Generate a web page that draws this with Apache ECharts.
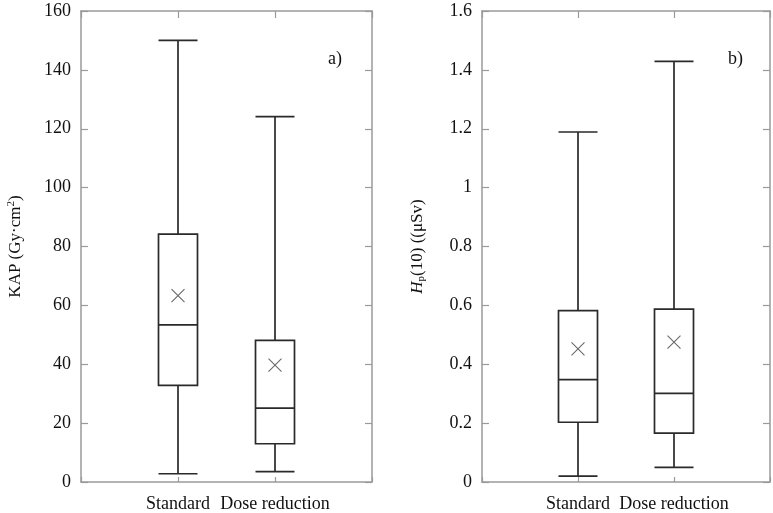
<!DOCTYPE html>
<html>
<head>
<meta charset="utf-8">
<script src="https://cdn.jsdelivr.net/npm/echarts@6/dist/echarts.min.js"></script>
<style>html,body{margin:0;padding:0;background:#fff;}#c{width:773px;height:513px;}</style>
</head>
<body>
<div id="c"></div>
<script>
// Data
const categories = ['Standard', 'Dose reduction'];
// [min, Q1, median, Q3, max]
const kapBox = [[2.8, 32.8, 53.4, 84.2, 150.0], [3.5, 13.0, 25.1, 48.1, 124.1]];
const kapMean = [63.3, 39.7];
const hpBox = [[0.020, 0.203, 0.348, 0.582, 1.189], [0.050, 0.166, 0.301, 0.587, 1.429]];
const hpMean = [0.452, 0.475];
const kapAxis = {min: 0, max: 160, interval: 20};
const hpAxis = {min: 0, max: 1.6, interval: 0.2};
const panelLabels = ['a)', 'b)'];

const FONT = 'Liberation Serif';
const frameColor = '#9a9a9a';
const lineColor = '#2a2a2a';
const textColor = '#111';
const paddedCats = [''].concat(categories).concat(['']);

const chart = echarts.init(document.getElementById('c'));

function xAxes(gridIndex) {
  return [
    {
      type: 'category', gridIndex, data: paddedCats, boundaryGap: false, position: 'bottom',
      axisLine: {show: true, onZero: false, lineStyle: {color: frameColor, width: 1.5}},
      axisTick: {show: true, inside: true, interval: 0, length: 5, lineStyle: {color: frameColor, width: 1.2}},
      axisLabel: {color: textColor, fontFamily: FONT, fontSize: 18, margin: 13, interval: 0, hideOverlap: false},
      splitLine: {show: false}
    },
    {
      type: 'category', gridIndex, data: paddedCats, boundaryGap: false, position: 'top',
      axisLine: {show: true, onZero: false, lineStyle: {color: frameColor, width: 1.5}},
      axisTick: {show: true, inside: true, interval: 0, length: 7, lineStyle: {color: frameColor, width: 1.2}},
      axisLabel: {show: false}, splitLine: {show: false}
    }
  ];
}
function yAxes(gridIndex, ax, name) {
  return [
    {
      type: 'value', gridIndex, position: 'left', min: ax.min, max: ax.max, interval: ax.interval,
      name: name, nameLocation: 'middle', nameGap: 55, nameRotate: 90,
      nameTextStyle: {
        color: textColor, fontFamily: FONT, fontSize: 17,
        rich: {
          sup: {fontFamily: FONT, fontSize: 11, color: textColor, padding: [0, 0, 9, 0]},
          i: {fontFamily: FONT, fontSize: 17, fontStyle: 'italic', color: textColor},
          sub: {fontFamily: FONT, fontSize: 11, color: textColor, padding: [7, 0, 0, 0]},
          n: {fontFamily: FONT, fontSize: 17, color: textColor}
        }
      },
      axisLine: {show: true, onZero: false, lineStyle: {color: frameColor, width: 1.5}},
      axisTick: {show: true, inside: true, length: 7, lineStyle: {color: frameColor, width: 1.2}},
      axisLabel: {color: textColor, fontFamily: FONT, fontSize: 18, margin: 10},
      splitLine: {show: false}
    },
    {
      type: 'value', gridIndex, position: 'right', min: ax.min, max: ax.max, interval: ax.interval,
      axisLine: {show: true, onZero: false, lineStyle: {color: frameColor, width: 1.5}},
      axisTick: {show: true, inside: true, length: 7, lineStyle: {color: frameColor, width: 1.2}},
      axisLabel: {show: false}, splitLine: {show: false}
    }
  ];
}

const crossPath = 'path://M0,0L10,10M10,0L0,10';

function boxData(arr) { return arr.map((b, i) => [i + 1].concat(b)); }
function meanData(arr) { return arr.map((m, i) => [i + 1, m]); }

const option = {
  animation: false,
  backgroundColor: '#fff',
  grid: [
    {left: 81, right: 401, top: 11, bottom: 31},
    {left: 482, right: 2, top: 11, bottom: 31}
  ],
  xAxis: xAxes(0).concat(xAxes(1)),
  yAxis: yAxes(0, kapAxis, '{n|KAP (Gy·cm}{sup|2}{n|)}').concat(yAxes(1, hpAxis, '{i|H}{sub|p}{n|(10) ((μSv)}')),
  graphic: [
    {type: 'text', left: 328, top: 50, style: {text: panelLabels[0], fontFamily: FONT, fontSize: 18, fill: textColor}},
    {type: 'text', left: 728, top: 50, style: {text: panelLabels[1], fontFamily: FONT, fontSize: 18, fill: textColor}}
  ],
  series: [
    {
      type: 'boxplot', xAxisIndex: 0, yAxisIndex: 0, data: boxData(kapBox),
      encode: {x: 0, y: [1, 2, 3, 4, 5]},
      boxWidth: [39, 39],
      itemStyle: {color: '#fff', borderColor: lineColor, borderWidth: 1.7}
    },
    {
      type: 'scatter', xAxisIndex: 0, yAxisIndex: 0, data: meanData(kapMean),
      symbol: crossPath, symbolSize: 13,
      itemStyle: {color: 'none', borderColor: '#444', borderWidth: 1.1}
    },
    {
      type: 'boxplot', xAxisIndex: 2, yAxisIndex: 2, data: boxData(hpBox),
      encode: {x: 0, y: [1, 2, 3, 4, 5]},
      boxWidth: [39, 39],
      itemStyle: {color: '#fff', borderColor: lineColor, borderWidth: 1.7}
    },
    {
      type: 'scatter', xAxisIndex: 2, yAxisIndex: 2, data: meanData(hpMean),
      symbol: crossPath, symbolSize: 13,
      itemStyle: {color: 'none', borderColor: '#444', borderWidth: 1.1}
    }
  ]
};
chart.setOption(option);
</script>
</body>
</html>
